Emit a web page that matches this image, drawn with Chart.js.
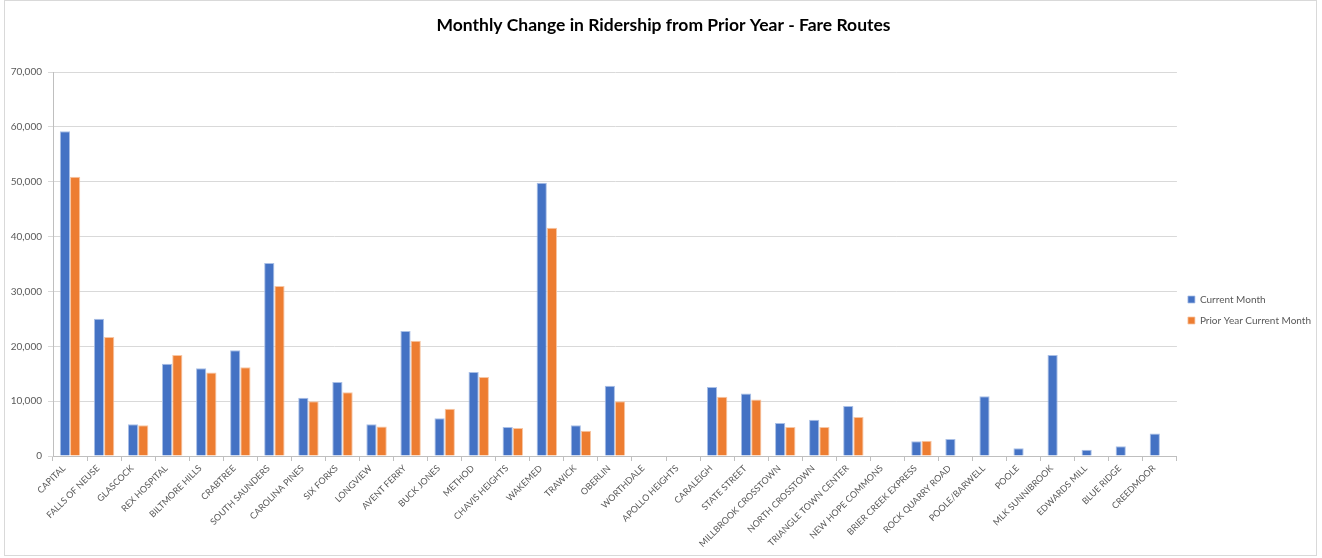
<!DOCTYPE html>
<html>
<head>
<meta charset="utf-8">
<script src="https://cdn.jsdelivr.net/npm/chart.js@4"></script>
<style>
  html, body { margin: 0; padding: 0; background: #fff; }
  #marco { position: absolute; left: 4px; top: 0px; width: 1313px; height: 556px; border: 1px solid #d9d9d9; box-sizing: border-box; }
  #grafica { position: absolute; left: 0; top: 0; }
</style>
</head>
<body>
<div id="marco"></div>
<canvas id="grafica" width="1322" height="558"></canvas>
<script>
// Rutas (categorias del eje X)
const rutas = ['CAPITAL', 'FALLS OF NEUSE', 'GLASCOCK', 'REX HOSPITAL', 'BILTMORE HILLS', 'CRABTREE',
  'SOUTH SAUNDERS', 'CAROLINA PINES', 'SIX FORKS', 'LONGVIEW', 'AVENT FERRY', 'BUCK JONES', 'METHOD',
  'CHAVIS HEIGHTS', 'WAKEMED', 'TRAWICK', 'OBERLIN', 'WORTHDALE', 'APOLLO HEIGHTS', 'CARALEIGH',
  'STATE STREET', 'MILLBROOK CROSSTOWN', 'NORTH CROSSTOWN', 'TRIANGLE TOWN CENTER', 'NEW HOPE COMMONS',
  'BRIER CREEK EXPRESS', 'ROCK QUARRY ROAD', 'POOLE/BARWELL', 'POOLE', 'MLK SUNNIBROOK', 'EDWARDS MILL',
  'BLUE RIDGE', 'CREEDMOOR']

// Valores
const mesActual = [59200, 25000, 5800, 16800, 16000, 19300,
  35200, 10600, 13500, 5800, 22800, 6900, 15300,
  5300, 49800, 5600, 12800, 0, 0, 12600,
  11400, 6000, 6600, 9100, 0,
  2700, 3100, 10900, 1400, 18400, 1150,
  1800, 4100]

const mesAnioAnterior = [50900, 21700, 5600, 18400, 15200, 16200,
  31000, 10000, 11600, 5400, 21000, 8600, 14400,
  5100, 41600, 4600, 10000, 0, 0, 10800,
  10300, 5300, 5300, 7100, 0,
  2800, null, null, null, null, null,
  null, null]

const ticksY = [0, 10000, 20000, 30000, 40000, 50000, 60000, 70000]

const fuente = 'Lato, "Open Sans", sans-serif'
const gris = '#595959'

const config = {
  type: 'bar',
  data: {
    labels: rutas,
    datasets: [
      {
        label: 'Current Month',
        data: mesActual,
        backgroundColor: '#4472C4',
        borderColor: '#a9bfe6',
        borderWidth: { top: 1, left: 1, right: 1, bottom: 0 },
        categoryPercentage: 0.6,
        barPercentage: 1.0
      },
      {
        label: 'Prior Year Current Month',
        data: mesAnioAnterior,
        backgroundColor: '#ED7D31',
        borderColor: '#f7c6a4',
        borderWidth: { top: 1, left: 1, right: 1, bottom: 0 },
        categoryPercentage: 0.6,
        barPercentage: 1.0
      }
    ]
  },
  options: {
    responsive: false,
    animation: false,
    layout: { padding: { left: 6, right: 1, top: 4, bottom: 6 } },
    plugins: {
      title: {
        display: true,
        text: 'Monthly Change in Ridership from Prior Year - Fare Routes',
        color: '#000',
        font: { family: fuente, size: 17.5, weight: 'bold' },
        padding: { top: 11, bottom: 36 }
      },
      legend: {
        position: 'right',
        title: {
          // titulo vacio solo para bajar la leyenda
          display: true,
          text: ' ',
          font: { size: 10 },
          padding: { top: 26, bottom: 26 }
        },
        labels: {
          boxWidth: 7,
          boxHeight: 7,
          padding: 11,
          color: gris,
          font: { family: fuente, size: 10 }
        }
      },
      tooltip: { enabled: false }
    },
    scales: {
      x: {
        offset: true,
        grid: {
          offset: true,
          drawOnChartArea: false,
          drawTicks: true,
          tickLength: 5,
          color: '#bfbfbf'
        },
        border: { color: '#bfbfbf' },
        ticks: {
          autoSkip: false,
          maxRotation: 45,
          minRotation: 45,
          color: gris,
          font: { family: fuente, size: 9 },
          padding: 2,
          labelOffset: -6
        },
        afterFit: (escala) => { escala.height = 96 }
      },
      y: {
        min: 0,
        max: 70000,
        afterBuildTicks: (escala) => { escala.ticks = ticksY.map(v => ({ value: v })) },
        grid: { color: '#d9d9d9', drawTicks: true, tickLength: 5 },
        border: { color: '#bfbfbf' },
        ticks: {
          color: gris,
          font: { family: fuente, size: 10 },
          padding: 6,
          callback: (v) => v.toLocaleString('en-US')
        },
        afterFit: (escala) => { escala.width = 47 }
      }
    }
  }
}

new Chart(document.querySelector('#grafica'), config)
</script>
</body>
</html>
